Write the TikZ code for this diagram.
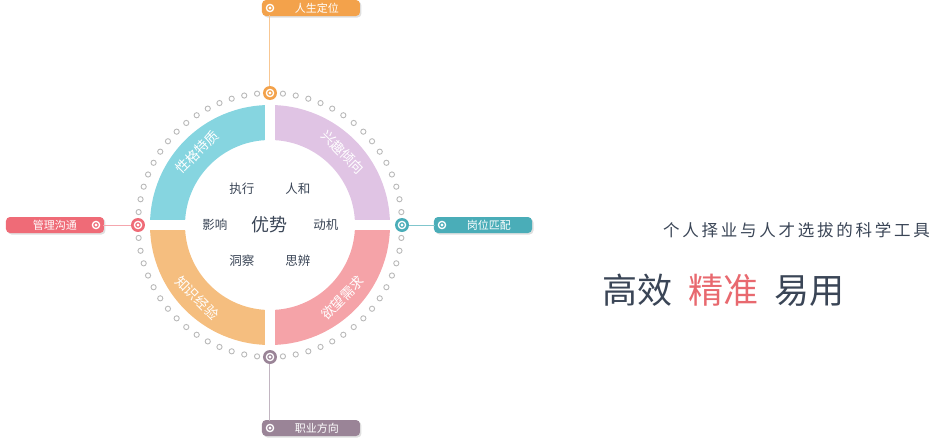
\documentclass[tikz,border=0pt]{standalone}
\usepackage{fontspec}
\setmainfont{Noto Sans CJK SC}
\usetikzlibrary{shadows}
\definecolor{cyanq}{HTML}{86D5E0}
\definecolor{lilacq}{HTML}{E0C4E4}
\definecolor{pinkq}{HTML}{F5A3A8}
\definecolor{orangeq}{HTML}{F5BE7F}
\definecolor{tagorange}{HTML}{F3A24B}
\definecolor{tagred}{HTML}{EF6B77}
\definecolor{tagteal}{HTML}{4AADB8}
\definecolor{tagpurple}{HTML}{9A8497}
\definecolor{inktext}{HTML}{3A4556}
\definecolor{accent}{HTML}{E8696F}
\begin{document}
\begin{tikzpicture}[x=1pt,y=1pt,
  tag_box/.style={rounded corners=4pt,minimum width=98pt,minimum height=16pt,inner sep=0pt,
    text=white,font=\fontsize{11}{11}\selectfont,drop shadow={opacity=0.25,shadow xshift=1.5pt,shadow yshift=-1.5pt}},
  mark_node/.style={circle,minimum size=14pt,inner sep=0pt,
    path picture={\draw[white,line width=1.3pt] (path picture bounding box.center) circle (3.6pt);
      \fill[white] (path picture bounding box.center) circle (1.6pt);}},
  ring_text/.style={text=white,font=\fontsize{13.5}{13.5}\selectfont},
  core_text/.style={text=inktext,font=\fontsize{12.5}{12.5}\selectfont}]
  \useasboundingbox (-270,-215) rectangle (660,225);

  % quarters of the ring
  \fill[lilacq] (0:120) arc (0:90:120) -- (90:85) arc (90:0:85) -- cycle;
  \fill[cyanq] (90:120) arc (90:180:120) -- (180:85) arc (180:90:85) -- cycle;
  \fill[orangeq] (180:120) arc (180:270:120) -- (270:85) arc (270:180:85) -- cycle;
  \fill[pinkq] (270:120) arc (270:360:120) -- (360:85) arc (360:270:85) -- cycle;
  \draw[white,line width=10pt] (-125,0) -- (125,0);
  \draw[white,line width=10pt] (0,-125) -- (0,125);

  % dotted circle
  \foreach \i in {0,...,63}{
    \pgfmathtruncatemacro\k{mod(\i,16)}
    \ifnum\k>0
      \draw[gray!55,line width=0.9pt] (\i*5.625:132) circle (2.6);
    \fi
  }

  \node[ring_text,rotate=45] (q1) at (135:103) {性格特质};
  \node[ring_text,rotate=-45] (q2) at (45:103) {兴趣倾向};
  \node[ring_text,rotate=45] (q3) at (-45:103) {欲望需求};
  \node[ring_text,rotate=-45] (q4) at (225:103) {知识经验};

  \node[text=inktext,font=\fontsize{18}{18}\selectfont] (core) at (0,0) {优势};
  \node[core_text] (c1) at (-28,36) {执行};
  \node[core_text] (c2) at (28,36) {人和};
  \node[core_text] (c3) at (-55,0) {影响};
  \node[core_text] (c4) at (56,0) {动机};
  \node[core_text] (c5) at (-28,-36) {洞察};
  \node[core_text] (c6) at (28,-36) {思辨};

  % tags
  \node[tag_box,fill=tagorange] (t1) at (41,217) {\hspace{12pt}人生定位};
  \node[tag_box,fill=tagred] (t2) at (-215,0) {管理沟通\hspace{12pt}};
  \node[tag_box,fill=tagteal] (t3) at (213,0) {\hspace{12pt}岗位匹配};
  \node[tag_box,fill=tagpurple] (t4) at (41,-203) {\hspace{12pt}职业方向};

  \node[mark_node,fill=tagorange] (m1) at (0,132) {};
  \node[mark_node,fill=tagred] (m2) at (-132,0) {};
  \node[mark_node,fill=tagteal] (m3) at (132,0) {};
  \node[mark_node,fill=tagpurple] (m4) at (0,-132) {};
  \node[mark_node,fill=tagorange] (n1) at (0,217) {};
  \node[mark_node,fill=tagred] (n2) at (-174,0) {};
  \node[mark_node,fill=tagteal] (n3) at (172,0) {};
  \node[mark_node,fill=tagpurple] (n4) at (0,-203) {};

  \draw[tagorange!60,line width=1pt] (n1) -- (m1);
  \draw[tagred!60,line width=1pt] (n2) -- (m2);
  \draw[tagteal!70,line width=1pt] (n3) -- (m3);
  \draw[tagpurple!60,line width=1pt] (n4) -- (m4);

  % slogan
  \node[anchor=east,inner sep=0pt,text=inktext,font=\fontsize{16.5}{16.5}\selectfont] (sub) at (660,-5)
    {个\,人\,择\,业\,与\,人\,才\,选\,拔\,的\,科\,学\,工\,具};
  \node[anchor=west,inner sep=0pt,font=\fontsize{35}{35}\selectfont] (main) at (332,-65)
    {\textcolor{inktext}{高效}\hspace{16pt}\textcolor{accent}{精准}\hspace{16pt}\textcolor{inktext}{易用}};
\end{tikzpicture}
\end{document}
